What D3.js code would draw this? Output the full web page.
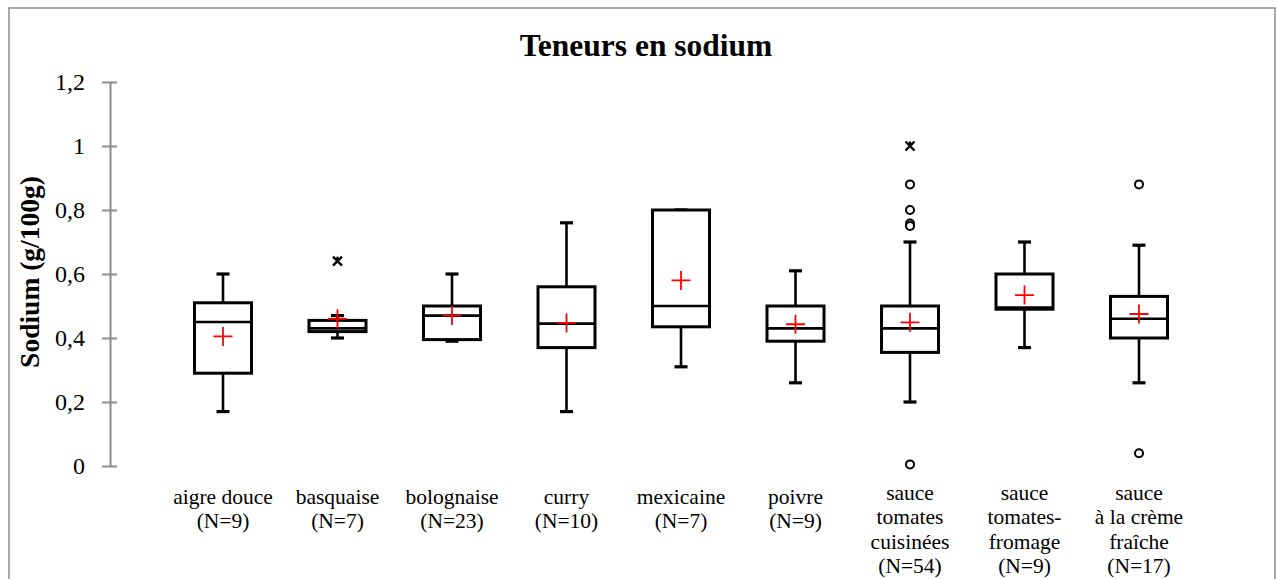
<!DOCTYPE html>
<html>
<head>
<meta charset="utf-8">
<script src="https://cdn.jsdelivr.net/npm/d3@7"></script>
<style>
  html, body { margin: 0; padding: 0; background: #fff; }
  svg { display: block; }
</style>
</head>
<body>
<script>
// ---- data ----
const categories = ["aigre douce", "basquaise", "bolognaise", "curry", "mexicaine", "poivre",
  "sauce tomates cuisinées", "sauce tomates-fromage", "sauce à la crème fraîche"];
const labelLines = [
  ["aigre douce", "(N=9)"],
  ["basquaise", "(N=7)"],
  ["bolognaise", "(N=23)"],
  ["curry", "(N=10)"],
  ["mexicaine", "(N=7)"],
  ["poivre", "(N=9)"],
  ["sauce", "tomates", "cuisinées", "(N=54)"],
  ["sauce", "tomates-", "fromage", "(N=9)"],
  ["sauce", "à la crème", "fraîche", "(N=17)"]
];
const whiskerLow  = [0.17, 0.40, 0.39, 0.17, 0.31, 0.26, 0.20, 0.37, 0.26];
const q1          = [0.29, 0.42, 0.395, 0.37, 0.435, 0.39, 0.355, 0.49, 0.40];
const median      = [0.45, 0.43, 0.47, 0.445, 0.50, 0.43, 0.43, 0.495, 0.46];
const q3          = [0.51, 0.455, 0.50, 0.56, 0.80, 0.50, 0.50, 0.60, 0.53];
const whiskerHigh = [0.60, 0.47, 0.60, 0.76, 0.80, 0.61, 0.70, 0.70, 0.69];
const means       = [0.405, 0.46, 0.47, 0.447, 0.58, 0.443, 0.449, 0.534, 0.475];
const outliers    = [[], [], [], [], [], [], [0.88, 0.80, 0.758, 0.75, 0.005], [], [0.88, 0.04]];
const extremes    = [[], [0.64], [], [], [], [], [1.0], [], []];
const yTicks = [0, 0.2, 0.4, 0.6, 0.8, 1, 1.2];

const W = 1277, H = 579;
const svg = d3.select("body").append("svg").attr("width", W).attr("height", H);

// outer frame
svg.append("rect").attr("x", 9).attr("y", 8).attr("width", 1266).attr("height", 590)
  .attr("fill", "none").attr("stroke", "#8c8c8c").attr("stroke-width", 1.5);

const x = d3.scalePoint().domain(categories).range([223, 1139]);
const y = d3.scaleLinear().domain([0, 1.2]).range([466, 82]);

const serif = "'Liberation Serif', 'DejaVu Serif', serif";

// title
svg.append("text").attr("x", 646).attr("y", 56).attr("text-anchor", "middle")
  .attr("font-family", serif).attr("font-weight", "bold").attr("font-size", 31.5)
  .attr("fill", "#000").text("Teneurs en sodium");

// y axis
const yAxis = d3.axisLeft(y).tickValues(yTicks)
  .tickFormat(d => String(d).replace(".", ","))
  .tickSize(0).tickPadding(25);
const gy = svg.append("g").attr("transform", "translate(110,0)").call(yAxis);
gy.select(".domain").attr("stroke", "#8c8c8c").attr("stroke-width", 2);
gy.selectAll(".tick text").attr("font-family", serif).attr("font-size", 24).attr("fill", "#000");
gy.selectAll(".tick").append("line").attr("x1", -8).attr("x2", 7)
  .attr("stroke", "#8c8c8c").attr("stroke-width", 2);

// axis title
svg.append("text").attr("transform", "translate(39,272) rotate(-90)")
  .attr("text-anchor", "middle").attr("font-family", serif).attr("font-weight", "bold")
  .attr("font-size", 27.5).attr("fill", "#000").text("Sodium (g/100g)");

// category labels
const lab = svg.append("g");
categories.forEach((c, i) => {
  const lines = labelLines[i];
  const y0 = lines.length > 2 ? 500 : 504;
  const t = lab.append("text").attr("text-anchor", "middle")
    .attr("font-family", serif).attr("font-size", 21.5).attr("fill", "#000");
  lines.forEach((l, k) => {
    t.append("tspan").attr("x", x(c)).attr("y", y0 + k * 24.3).text(l);
  });
});

// boxes
const half = 28.5, cap = 6.5;
const g = svg.append("g").attr("stroke", "#000").attr("fill", "none");
categories.forEach((c, i) => {
  const cx = x(c);
  // whiskers
  g.append("line").attr("x1", cx).attr("x2", cx).attr("y1", y(q3[i])).attr("y2", y(whiskerHigh[i])).attr("stroke-width", 2.6);
  g.append("line").attr("x1", cx).attr("x2", cx).attr("y1", y(q1[i])).attr("y2", y(whiskerLow[i])).attr("stroke-width", 2.6);
  g.append("line").attr("x1", cx - cap).attr("x2", cx + cap).attr("y1", y(whiskerHigh[i])).attr("y2", y(whiskerHigh[i])).attr("stroke-width", 3.2);
  g.append("line").attr("x1", cx - cap).attr("x2", cx + cap).attr("y1", y(whiskerLow[i])).attr("y2", y(whiskerLow[i])).attr("stroke-width", 3.2);
  // box
  g.append("rect").attr("x", cx - half).attr("y", y(q3[i])).attr("width", 2 * half)
    .attr("height", y(q1[i]) - y(q3[i])).attr("fill", "#fff").attr("stroke-width", 3);
  // median
  g.append("line").attr("x1", cx - half).attr("x2", cx + half).attr("y1", y(median[i])).attr("y2", y(median[i])).attr("stroke-width", 2.6);
  // outliers
  outliers[i].forEach(v => {
    g.append("circle").attr("cx", cx).attr("cy", y(v)).attr("r", 4).attr("stroke-width", 2).attr("fill", "#fff");
  });
  extremes[i].forEach(v => {
    const s = 4.5, yy = y(v);
    g.append("path").attr("d", `M${cx - s},${yy - s}L${cx + s},${yy + s}M${cx - s},${yy + s}L${cx + s},${yy - s}M${cx},${yy - s}L${cx},${yy}`).attr("stroke-width", 2.4);
  });
  // mean
  const my = y(means[i]);
  g.append("path").attr("d", `M${cx - 9.5},${my}L${cx + 9.5},${my}M${cx},${my - 9.5}L${cx},${my + 9.5}`)
    .attr("stroke", "#ff0000").attr("stroke-width", 1.8);
});
</script>
</body>
</html>
